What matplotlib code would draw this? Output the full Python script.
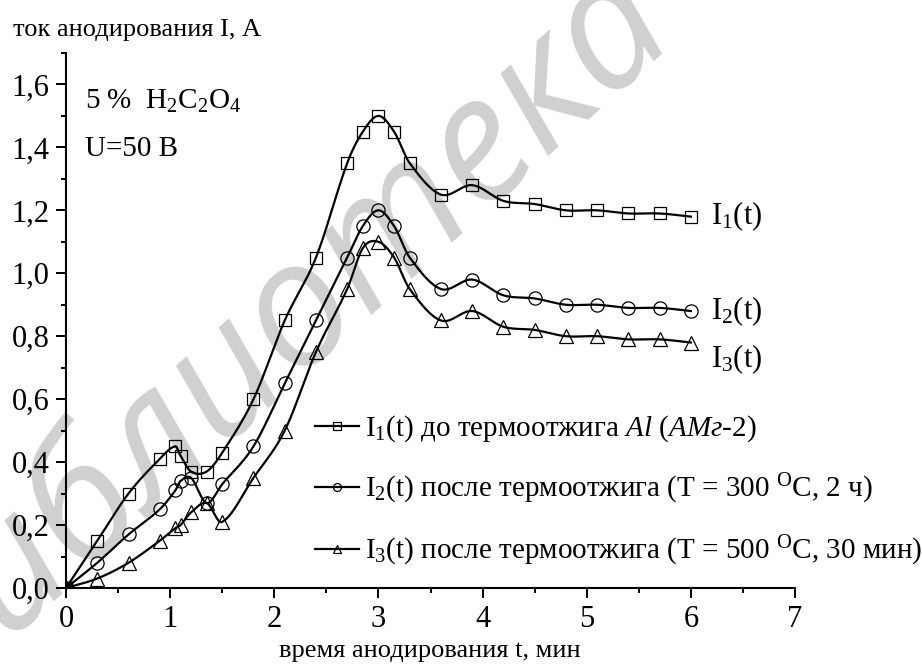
import numpy as np
import matplotlib
matplotlib.use("Agg")
import matplotlib.pyplot as plt
from matplotlib.ticker import MultipleLocator, FuncFormatter

# --- данные ---
t = [0.0, 0.3, 0.6, 0.9, 1.05, 1.1, 1.2, 1.35, 1.5, 1.8, 2.1, 2.4, 2.7, 2.85,
     3.0, 3.15, 3.3, 3.6, 3.9, 4.2, 4.5, 4.8, 5.1, 5.4, 5.7, 6.0]
i1 = [0.0, 0.15, 0.30, 0.41, 0.45, 0.42, 0.37, 0.37, 0.43, 0.60, 0.85, 1.05, 1.35, 1.45,
      1.50, 1.45, 1.35, 1.25, 1.28, 1.23, 1.22, 1.20, 1.20, 1.19, 1.19, 1.18]
i2 = [0.0, 0.08, 0.17, 0.25, 0.31, 0.34, 0.35, 0.27, 0.33, 0.45, 0.65, 0.85, 1.05, 1.15,
      1.20, 1.15, 1.05, 0.95, 0.98, 0.93, 0.92, 0.90, 0.90, 0.89, 0.89, 0.88]
i3 = [0.0, 0.03, 0.08, 0.15, 0.19, 0.20, 0.24, 0.27, 0.21, 0.35, 0.50, 0.75, 0.95, 1.08,
      1.10, 1.05, 0.95, 0.85, 0.88, 0.83, 0.82, 0.80, 0.80, 0.79, 0.79, 0.78]

legend_labels = [
    r"I$_1$(t) до термоотжига $\mathit{Al}$ ($\mathit{АМг}$-$\mathit{2}$)",
    r"I$_2$(t) после термоотжига (Т = 300 $^{\mathrm{O}}$С, 2 ч)",
    r"I$_3$(t) после термоотжига (Т = 500 $^{\mathrm{O}}$С, 30 мин)",
]
end_labels = [r"I$_1$(t)", r"I$_2$(t)", r"I$_3$(t)"]

plt.rcParams["font.family"] = ["Liberation Serif", "DejaVu Serif"]
plt.rcParams["mathtext.fontset"] = "custom"
plt.rcParams["mathtext.rm"] = "Liberation Serif"
plt.rcParams["mathtext.it"] = "Liberation Serif:italic"
plt.rcParams["mathtext.bf"] = "Liberation Serif:bold"


def smooth(x, y, n=40):
    # гладкая кривая через точки (кубический Эрмит)
    x = np.asarray(x, float)
    y = np.asarray(y, float)
    m = np.zeros_like(y)
    m[1:-1] = (y[2:] - y[:-2]) / (x[2:] - x[:-2])
    m[0] = (y[1] - y[0]) / (x[1] - x[0])
    m[-1] = (y[-1] - y[-2]) / (x[-1] - x[-2])
    xs, ys = [], []
    for k in range(len(x) - 1):
        h = x[k + 1] - x[k]
        s = np.linspace(0, 1, n)
        h00 = 2 * s**3 - 3 * s**2 + 1
        h10 = s**3 - 2 * s**2 + s
        h01 = -2 * s**3 + 3 * s**2
        h11 = s**3 - s**2
        xs.append(x[k] + s * h)
        ys.append(h00 * y[k] + h10 * h * m[k] + h01 * y[k + 1] + h11 * h * m[k + 1])
    return np.concatenate(xs), np.concatenate(ys)


fig = plt.figure(figsize=(9.22, 6.64), dpi=100)
ax = fig.add_axes([0.0716, 0.1145, 0.7907, 0.8057])
ax.set_facecolor("none")

# водяной знак (под осями)
fig.text(0.30, 0.50, "библиотека", rotation=42, fontsize=125, color="#d0d0d0",
         family="Open Sans", style="italic", ha="center", va="center", zorder=-5)

markers = ["s", "o", "^"]
msizes = [8.5, 9.5, 10]
for y, mk, ms, lab in zip([i1, i2, i3], markers, msizes, legend_labels):
    xs, ys = smooth(t, y)
    ax.plot(xs, ys, color="black", lw=1.6, zorder=3)
    ax.plot(t, y, linestyle="none", marker=mk, ms=ms, mfc="none", mec="black",
            mew=0.9, zorder=4)
    ax.plot([], [], color="black", lw=1.6, marker=mk, ms=ms * 0.6, mfc="none",
            mec="black", mew=0.9, label=lab)

ax.set_xlim(0, 7)
ax.set_ylim(0, 1.7)
ax.xaxis.set_major_locator(MultipleLocator(1))
ax.xaxis.set_minor_locator(MultipleLocator(0.5))
ax.yaxis.set_major_locator(MultipleLocator(0.2))
ax.yaxis.set_minor_locator(MultipleLocator(0.1))
ax.yaxis.set_major_formatter(FuncFormatter(lambda v, p: f"{v:.1f}".replace(".", ",")))
ax.xaxis.set_major_formatter(FuncFormatter(lambda v, p: f"{v:.0f}"))

for side in ["top", "right"]:
    ax.spines[side].set_visible(False)
for side in ["left", "bottom"]:
    ax.spines[side].set_linewidth(1.5)
ax.tick_params(which="major", direction="out", length=7, width=1.4, labelsize=22, pad=5)
ax.tick_params(which="minor", direction="out", length=3.5, width=1.4)

ax.text(0.18, 1.523, r"5 %  H$_2$C$_2$O$_4$", fontsize=21, va="baseline")
ax.text(0.18, 1.374, "U=50 В", fontsize=21, va="baseline")

for yb, lab in zip([1.157, 0.854, 0.701], end_labels):
    ax.text(6.19, yb, lab, fontsize=22, va="baseline")

leg = ax.legend(loc="upper left", bbox_to_anchor=(0.342, 0.326), frameon=False,
                fontsize=21, handlelength=1.5, handletextpad=0.2, labelspacing=0.95,
                borderpad=0, borderaxespad=0)

fig.text(0.014, 0.946, "ток анодирования I, А", fontsize=19, va="baseline")
fig.text(0.466, 0.0105, "время анодирования t, мин", fontsize=19, va="baseline", ha="center")

fig.savefig("out.png", dpi=100)
